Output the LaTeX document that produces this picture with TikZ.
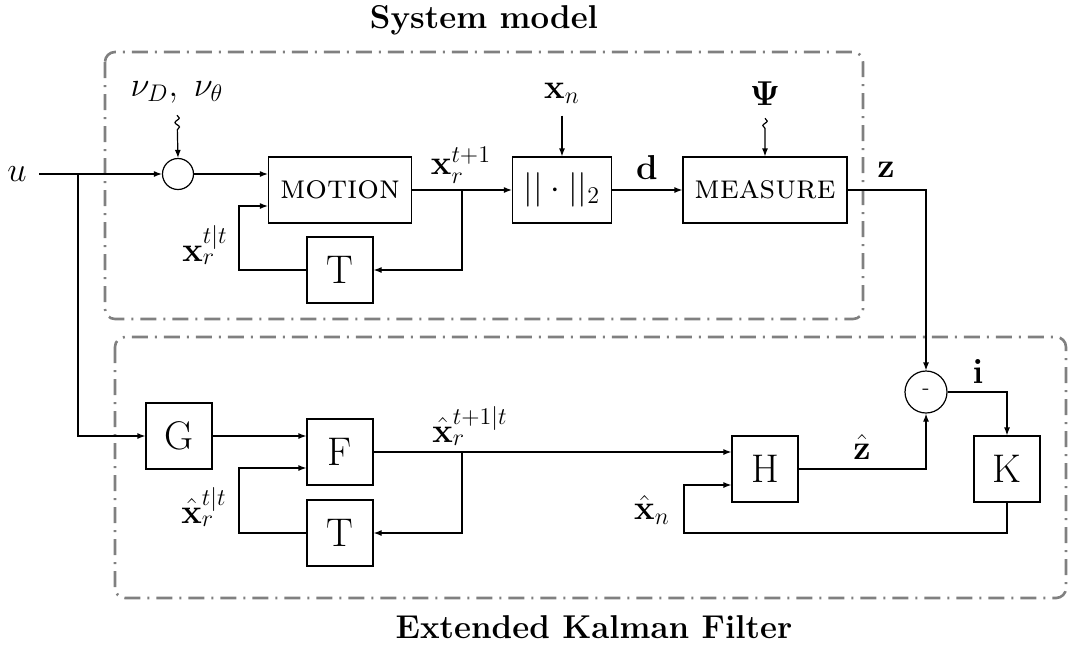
\documentclass[tikz,border=0pt]{standalone}
\usepackage{amsmath,amssymb}
\usetikzlibrary{arrows.meta,decorations.pathmorphing,calc}
\begin{document}
\begin{tikzpicture}[x=0.5pt,y=-0.5pt,
  every node/.style={font=\fontsize{17}{20}\selectfont},
  blk/.style={draw, line width=0.6pt, inner sep=0pt, minimum height=33pt},
  sq/.style={blk, minimum width=33pt, font=\fontsize{20}{24}\selectfont},
  sumc/.style={draw, circle, line width=0.6pt, inner sep=0pt},
  lab/.style={inner sep=0pt},
  conn/.style={line width=0.6pt, -{Latex[length=4pt,width=3pt]}},
  region/.style={draw=gray, line width=1.3pt, rounded corners=5pt, dash pattern=on 8pt off 3.5pt on 1pt off 3.5pt},
  noise/.style={conn, decorate, decoration={snake, amplitude=1.1pt, segment length=4.5pt, post length=12pt}},
  ttl/.style={font=\fontsize{16.5}{20}\selectfont\bfseries}
]
\useasboundingbox (0,0) rectangle (1068,645);

% regions
\draw[region] (105,52) rectangle (863,319);
\draw[region] (115,337) rectangle (1066,598);
\node[ttl] (tsys) at (484,20) {System model};
\node[ttl] (tekf) at (594,627) {Extended Kalman Filter};

% blocks
\node[lab] (u) at (17,174) {$u$};
\coordinate (b1) at (78,174);
\node[sumc, minimum size=15.5pt] (c1) at (178,174) {};
\node[blk, minimum width=71.5pt] (motion) at (340,190) {\textsc{motion}};
\node[sq] (t1) at (340,270) {T};
\node[blk, minimum width=49.5pt] (norm) at (562,190) {$||\cdot||_2$};
\node[blk, minimum width=82pt] (meas) at (765,190) {\textsc{measure}};
\node[sumc, minimum size=21pt, font=\fontsize{11}{12}\selectfont] (minus) at (926,392) {-};
\node[sq] (K) at (1007,469) {K};
\node[sq] (H) at (765,469) {H};
\node[sq] (G) at (179,436) {G};
\node[sq] (F) at (340,452) {F};
\node[sq] (t2) at (340,533) {T};

% labels
\node[lab] (nu) at (177,92) {$\nu_D,\ \nu_\theta$};
\node[lab] (xn) at (562,93) {$\mathbf{x}_n$};
\node[lab] (psi) at (765,94) {$\boldsymbol{\Psi}$};
\node[lab] (lxr1) at (461,165) {$\mathbf{x}_r^{t+1}$};
\node[lab] (lxr) at (205,245) {$\mathbf{x}_r^{t|t}$};
\node[lab] (ld) at (647,167) {$\mathbf{d}$};
\node[lab] (lz) at (886,170) {$\mathbf{z}$};
\node[lab] (li) at (978,371) {$\mathbf{i}$};
\node[lab] (lzh) at (862,447) {$\hat{\mathbf{z}}$};
\node[lab] (lxn) at (652,510) {$\hat{\mathbf{x}}_n$};
\node[lab] (lxh1) at (470,426) {$\hat{\mathbf{x}}_r^{t+1|t}$};
\node[lab] (lxh) at (204,507) {$\hat{\mathbf{x}}_r^{t|t}$};

% connectors: system model
\draw[conn] ([xshift=6pt]u.east |- c1.west) -- (c1.west);
\draw[conn] (b1) |- (G.west);
\draw[noise] ([yshift=-6pt]nu.south) -- (c1.north);
\draw[conn] (c1.east) -- (c1.east -| motion.west);
\draw[conn] (motion.east) -- (norm.west);
\coordinate (b2) at (462,190);
\draw[conn] (b2) |- (t1.east);
\coordinate (fb1) at (239,206);
\draw[conn] (t1.west) -| (fb1) -- (fb1 -| motion.west);
\draw[conn] ([yshift=-6pt]xn.south) -- (norm.north);
\draw[noise] ([yshift=-6pt]psi.south) -- (meas.north);
\draw[conn] (norm.east) -- (meas.west);
\draw[conn] (meas.east) -| (minus.north);

% connectors: EKF
\draw[conn] (minus.east) -| (K.north);
\draw[conn] (H.east) -| (minus.south);
\coordinate (kb) at (1007,533);
\coordinate (fb3) at (684,485);
\draw[conn] (K.south) -- (kb) -| (fb3) -- (fb3 -| H.west);
\draw[conn] (G.east) -- (G.east -| F.west);
\draw[conn] (F.east) -- (F.east -| H.west);
\coordinate (b3) at (462,452);
\draw[conn] (b3) |- (t2.east);
\coordinate (fb2) at (239,468);
\draw[conn] (t2.west) -| (fb2) -- (fb2 -| F.west);
\end{tikzpicture}
\end{document}
